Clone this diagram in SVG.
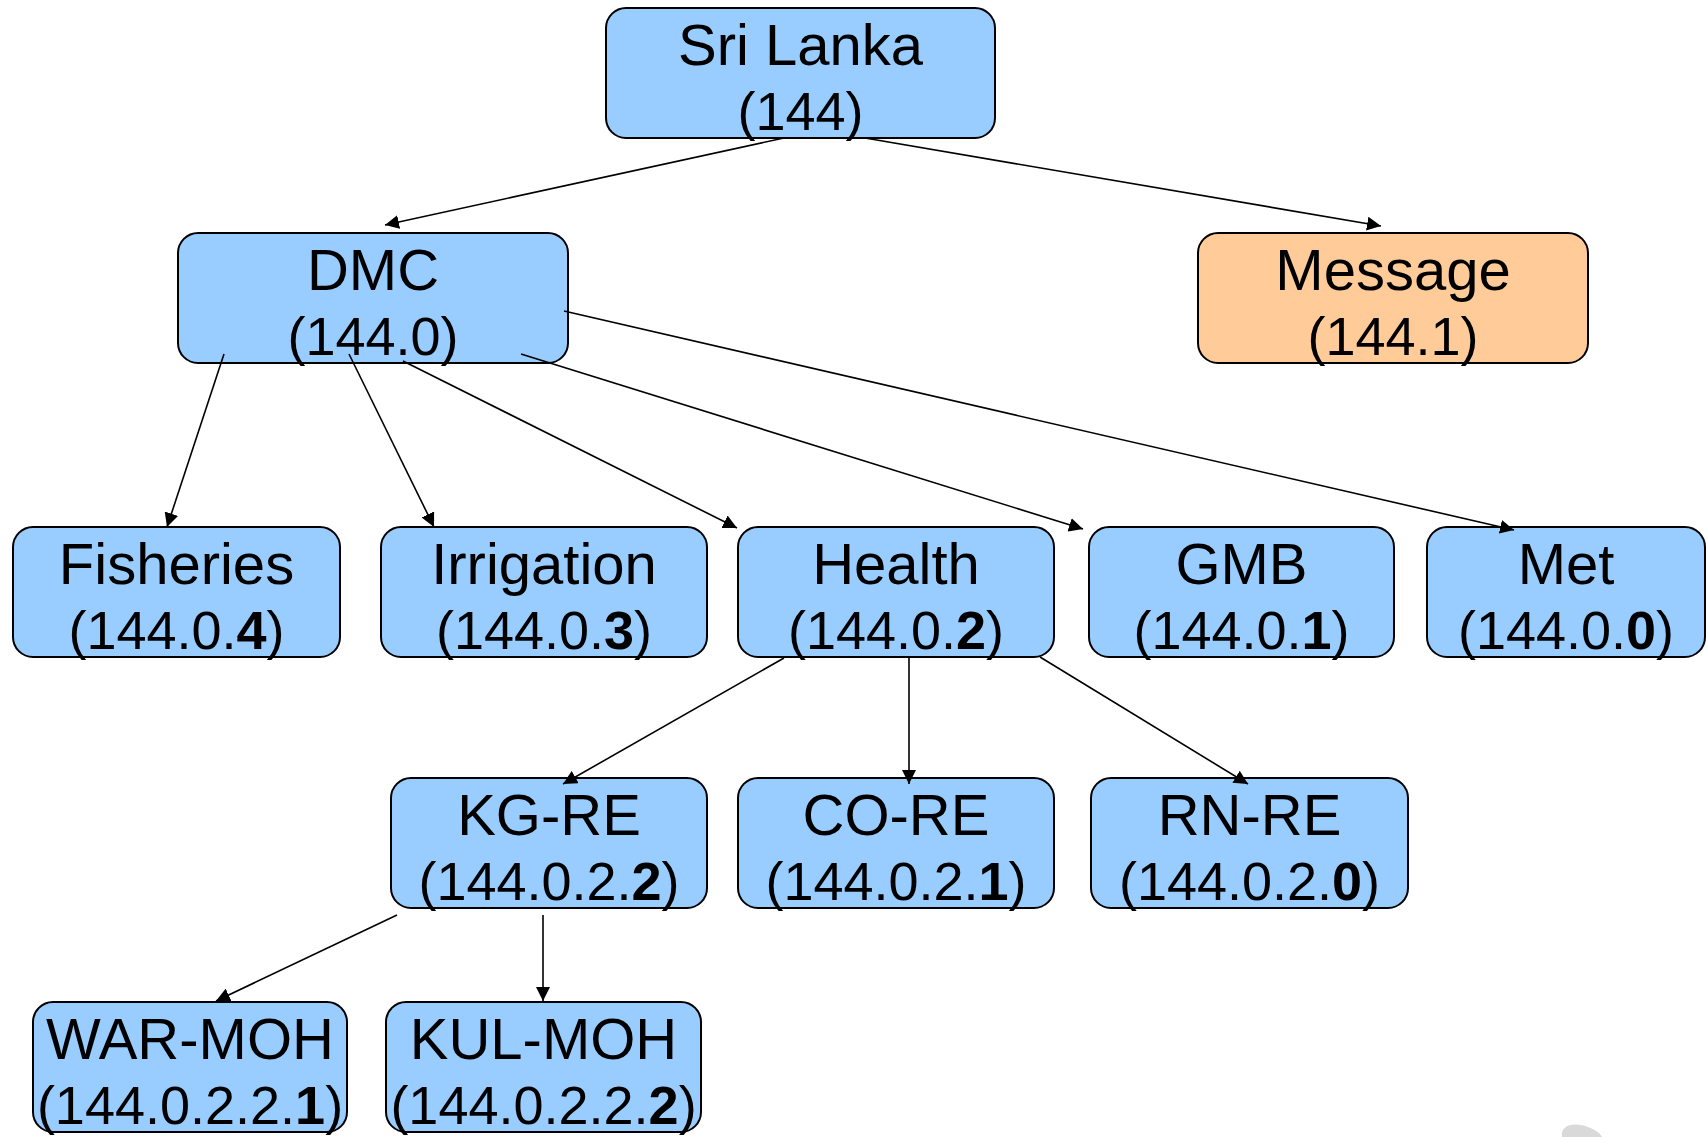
<svg xmlns="http://www.w3.org/2000/svg" width="1707" height="1137" viewBox="0 0 1707 1137">
<style>
.box{fill:#99CCFF;stroke:#000;stroke-width:2}
.msg{fill:#FFCC99;stroke:#000;stroke-width:2}
.t1{font-family:"Liberation Sans",Arial,sans-serif;font-size:58px;fill:#000;text-anchor:middle}
.t2{font-family:"Liberation Sans",Arial,sans-serif;font-size:54px;fill:#000;text-anchor:middle}
.b{font-weight:bold}
.c{stroke:#000;stroke-width:1.6;fill:none;marker-end:url(#ah)}
</style>
<defs>
<marker id="ah" markerUnits="userSpaceOnUse" markerWidth="14" markerHeight="14" viewBox="0 0 14 14" refX="14" refY="7" orient="auto">
<path d="M0,0 L14,7 L0,14 z" fill="#000"/>
</marker>
</defs>
<rect width="1707" height="1137" fill="#fff"/>
<g id="n-srilanka"><rect class="box" x="606" y="8" width="389" height="130" rx="20"/><text class="t1" x="800.5" y="65">Sri Lanka</text><text class="t2" x="800.5" y="130">(144)</text></g>
<g id="n-dmc"><rect class="box" x="178" y="233" width="390" height="130" rx="20"/><text class="t1" x="373" y="290">DMC</text><text class="t2" x="373" y="355">(144.0)</text></g>
<g id="n-message"><rect class="msg" x="1198" y="233" width="390" height="130" rx="20"/><text class="t1" x="1393" y="290">Message</text><text class="t2" x="1393" y="355">(144.1)</text></g>
<g id="n-fisheries"><rect class="box" x="13" y="527" width="327" height="130" rx="20"/><text class="t1" x="176.5" y="584">Fisheries</text><text class="t2" x="176.5" y="649">(144.0.<tspan class="b">4</tspan>)</text></g>
<g id="n-irrigation"><rect class="box" x="381" y="527" width="326" height="130" rx="20"/><text class="t1" x="544" y="584">Irrigation</text><text class="t2" x="544" y="649">(144.0.<tspan class="b">3</tspan>)</text></g>
<g id="n-health"><rect class="box" x="738" y="527" width="316" height="130" rx="20"/><text class="t1" x="896" y="584">Health</text><text class="t2" x="896" y="649">(144.0.<tspan class="b">2</tspan>)</text></g>
<g id="n-gmb"><rect class="box" x="1089" y="527" width="305" height="130" rx="20"/><text class="t1" x="1241.5" y="584">GMB</text><text class="t2" x="1241.5" y="649">(144.0.<tspan class="b">1</tspan>)</text></g>
<g id="n-met"><rect class="box" x="1427" y="527" width="278" height="130" rx="20"/><text class="t1" x="1566" y="584">Met</text><text class="t2" x="1566" y="649">(144.0.<tspan class="b">0</tspan>)</text></g>
<g id="n-kgre"><rect class="box" x="391" y="778" width="316" height="130" rx="20"/><text class="t1" x="549" y="835">KG-RE</text><text class="t2" x="549" y="900">(144.0.2.<tspan class="b">2</tspan>)</text></g>
<g id="n-core"><rect class="box" x="738" y="778" width="316" height="130" rx="20"/><text class="t1" x="896" y="835">CO-RE</text><text class="t2" x="896" y="900">(144.0.2.<tspan class="b">1</tspan>)</text></g>
<g id="n-rnre"><rect class="box" x="1091" y="778" width="317" height="130" rx="20"/><text class="t1" x="1249.5" y="835">RN-RE</text><text class="t2" x="1249.5" y="900">(144.0.2.<tspan class="b">0</tspan>)</text></g>
<g id="n-warmoh"><rect class="box" x="33" y="1002" width="314" height="130" rx="20"/><text class="t1" x="190" y="1059">WAR-MOH</text><text class="t2" x="190" y="1124">(144.0.2.2.<tspan class="b">1</tspan>)</text></g>
<g id="n-kulmoh"><rect class="box" x="386" y="1002" width="315" height="130" rx="20"/><text class="t1" x="543.5" y="1059">KUL-MOH</text><text class="t2" x="543.5" y="1124">(144.0.2.2.<tspan class="b">2</tspan>)</text></g>
<g id="connectors">
<line class="c" x1="784" y1="138" x2="385" y2="225"/>
<line class="c" x1="865" y1="138" x2="1381" y2="226"/>
<line class="c" x1="224" y1="354" x2="167" y2="527"/>
<line class="c" x1="349" y1="354" x2="434" y2="527"/>
<line class="c" x1="403" y1="361" x2="737" y2="528"/>
<line class="c" x1="521" y1="354" x2="1083" y2="529"/>
<line class="c" x1="564" y1="311" x2="1514" y2="530"/>
<line class="c" x1="784" y1="658" x2="563" y2="784"/>
<line class="c" x1="909" y1="658" x2="909" y2="784"/>
<line class="c" x1="1040" y1="657" x2="1248" y2="784"/>
<line class="c" x1="397" y1="915" x2="216" y2="1001"/>
<line class="c" x1="543" y1="915" x2="543" y2="1001"/>
</g>
<path d="M1562,1137 C1560,1126 1572,1122 1585,1126 C1595,1129 1600,1133 1602,1137 Z" fill="#d9d9d9"/>
</svg>
